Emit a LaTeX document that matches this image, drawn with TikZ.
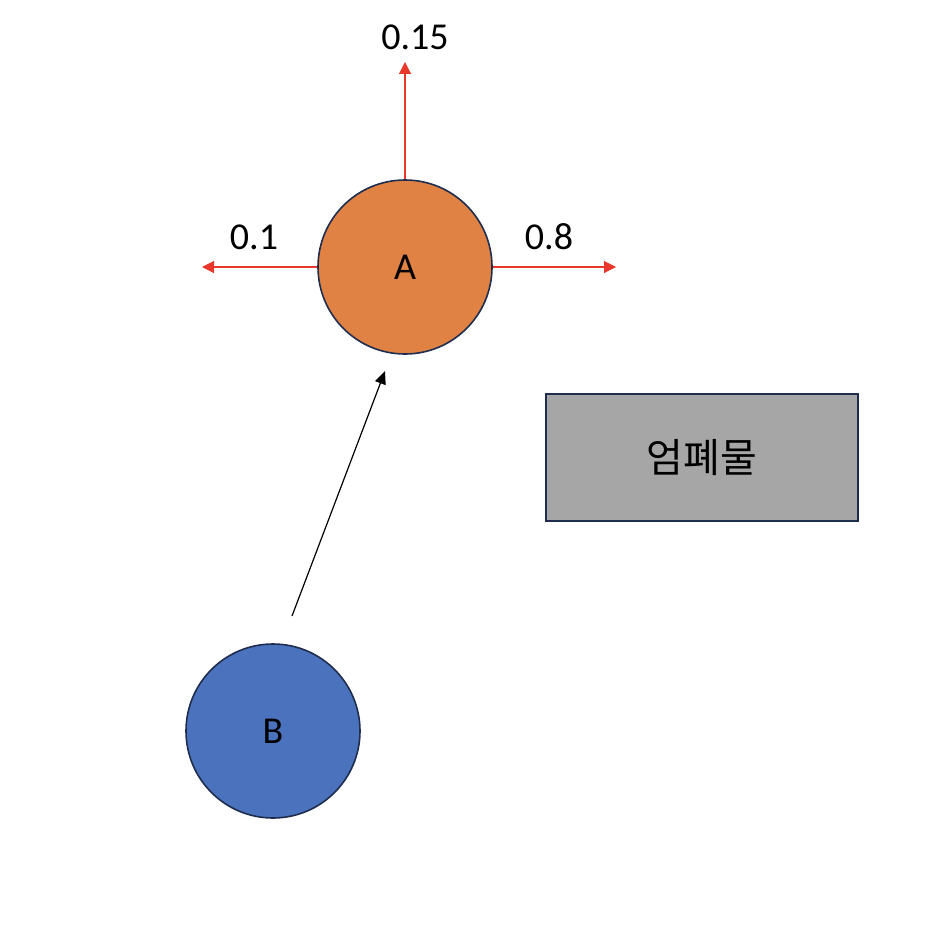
\documentclass[tikz,border=0pt]{standalone}
\usepackage{fontspec}
\setmainfont{Carlito}
\newfontfamily\cjk{Noto Sans CJK KR}
\usetikzlibrary{arrows.meta}
\definecolor{aorange}{HTML}{E08243}
\definecolor{bblue}{HTML}{4A72BD}
\definecolor{edgenavy}{HTML}{1F2D4E}
\definecolor{redarrow}{HTML}{E8372B}
\definecolor{boxgray}{HTML}{A6A6A6}
\tikzset{
  statecircle/.style={circle, draw=edgenavy, line width=1.6pt, minimum size=174pt, inner sep=0pt, font=\fontsize{38}{42}\selectfont},
  probarrow/.style={draw=redarrow, line width=1.1pt, -{Triangle[length=12pt,width=12pt]}},
  moveline/.style={draw=black, line width=1.2pt, -{Triangle[length=13pt,width=11pt]}},
  problabel/.style={font=\fontsize{38}{42}\selectfont, inner sep=0pt},
  coverbox/.style={draw=edgenavy, line width=1.8pt, fill=boxgray, minimum width=312pt, minimum height=127pt, inner sep=0pt, font=\cjk\fontsize{40}{44}\selectfont}
}
\begin{document}
\begin{tikzpicture}[x=1pt,y=-1pt]
\useasboundingbox (0,0) rectangle (948,952);
\node[statecircle, fill=aorange] (A) at (405,267) {A};
\node[statecircle, fill=bblue] (B) at (273,731) {B};
\node[coverbox] (C) at (702,457.5) {엄폐물};
\coordinate (up) at (405,62);
\coordinate (left) at (202,267);
\coordinate (right) at (616,267);
\draw[probarrow] (A.north) -- (up);
\draw[probarrow] (A.west) -- (left);
\draw[probarrow] (A.east) -- (right);
\node[problabel] (l15) at (415,37) {0.15};
\node[problabel] (l1) at (254,237) {0.1};
\node[problabel] (l8) at (549,237) {0.8};
\coordinate (bstart) at (292,616);
\coordinate (aend) at (385,371);
\draw[moveline] (bstart) -- (aend);
\end{tikzpicture}
\end{document}
